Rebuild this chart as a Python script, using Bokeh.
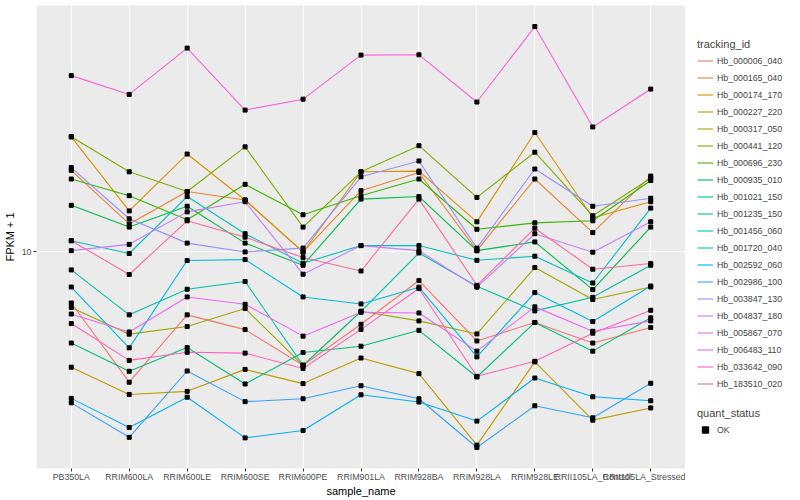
import math
from bokeh.plotting import figure
from bokeh.layouts import row
from bokeh.models import (Range1d, FixedTicker, Legend, LegendItem,
                          PrintfTickFormatter)
from bokeh.embed import file_html
from bokeh.resources import INLINE

samples = ["PB350LA", "RRIM600LA", "RRIM600LE", "RRIM600SE", "RRIM600PE",
           "RRIM901LA", "RRIM928BA", "RRIM928LA", "RRIM928LE",
           "RRII105LA_Control", "RRII105LA_Stressed"]

tracking_ids = ["Hb_000006_040", "Hb_000165_040", "Hb_000174_170", "Hb_000227_220",
                "Hb_000317_050", "Hb_000441_120", "Hb_000696_230", "Hb_000935_010",
                "Hb_001021_150", "Hb_001235_150", "Hb_001456_060", "Hb_001720_040",
                "Hb_002592_060", "Hb_002986_100", "Hb_003847_130", "Hb_004837_180",
                "Hb_005867_070", "Hb_006483_110", "Hb_033642_090", "Hb_183510_020"]

# FPKM + 1 per sample (same order as samples)
Hb_000006_040 = [6.76, 3.68, 6.17, 5.51, 4.19, 5.74, 8.03, 5.05, 5.82, 4.97, 5.60]
Hb_000165_040 = [18.7, 12.4, 15.9, 14.9, 10.0, 16.0, 18.4, 10.1, 17.5, 11.6, 17.9]
Hb_000174_170 = [24.2, 13.7, 21.2, 14.9, 9.98, 18.5, 18.6, 12.6, 25.0, 13.0, 14.7]
Hb_000227_220 = [4.13, 3.35, 3.43, 4.06, 3.64, 4.43, 3.93, 2.27, 4.30, 2.75, 3.02]
Hb_000317_050 = [6.53, 5.32, 5.64, 6.48, 4.19, 6.34, 5.89, 5.33, 8.87, 6.94, 7.64]
Hb_000441_120 = [24.2, 18.5, 15.9, 22.4, 12.1, 18.5, 22.6, 15.2, 21.5, 13.2, 17.6]
Hb_000696_230 = [17.5, 15.4, 12.8, 16.8, 13.3, 15.4, 17.5, 11.9, 12.5, 12.7, 17.3]
Hb_000935_010 = [14.3, 12.1, 14.2, 10.7, 9.03, 15.0, 15.3, 10.1, 10.8, 7.49, 12.1]
Hb_001021_150 = [4.97, 4.00, 4.80, 3.63, 4.62, 4.85, 5.48, 3.83, 5.82, 4.67, 6.03]
Hb_001235_150 = [8.71, 6.17, 7.51, 7.97, 4.19, 6.34, 9.92, 7.69, 6.36, 7.06, 9.03]
Hb_001456_060 = [10.9, 9.88, 15.3, 11.5, 9.17, 10.5, 10.5, 9.38, 9.68, 7.88, 14.0]
Hb_001720_040 = [7.64, 4.79, 9.36, 9.43, 7.08, 6.71, 7.63, 4.47, 7.32, 5.86, 7.70]
Hb_002592_060 = [3.25, 2.60, 3.28, 2.40, 2.54, 3.34, 3.16, 2.73, 3.80, 3.29, 3.19]
Hb_002986_100 = [3.14, 2.41, 4.01, 3.17, 3.24, 3.58, 3.24, 2.23, 3.07, 2.80, 3.65]
Hb_003847_130 = [19.1, 12.9, 10.7, 10.0, 10.3, 17.8, 20.1, 10.3, 18.9, 14.2, 15.1]
Hb_004837_180 = [10.1, 10.6, 13.6, 14.7, 8.43, 10.5, 10.1, 7.63, 11.5, 9.98, 12.6]
Hb_005867_070 = [6.21, 5.41, 7.08, 6.69, 5.24, 6.29, 6.26, 4.67, 6.56, 5.44, 5.89]
Hb_006483_110 = [38.7, 33.5, 47.8, 29.7, 32.3, 45.3, 45.4, 31.6, 56.4, 26.1, 34.9]
Hb_033642_090 = [5.77, 4.35, 4.63, 4.60, 4.09, 5.52, 7.55, 3.85, 4.32, 5.36, 6.39]
Hb_183510_020 = [10.9, 8.41, 12.7, 11.2, 9.58, 8.64, 15.0, 7.74, 12.0, 8.76, 9.15]

series = [Hb_000006_040, Hb_000165_040, Hb_000174_170, Hb_000227_220, Hb_000317_050,
          Hb_000441_120, Hb_000696_230, Hb_000935_010, Hb_001021_150, Hb_001235_150,
          Hb_001456_060, Hb_001720_040, Hb_002592_060, Hb_002986_100, Hb_003847_130,
          Hb_004837_180, Hb_005867_070, Hb_006483_110, Hb_033642_090, Hb_183510_020]

quant_status = ["OK"]
y_breaks = [10]


def hcl_hex(h, c=100.0, l=65.0):
    hr = math.radians(h)
    u = c * math.cos(hr)
    v = c * math.sin(hr)
    Xn, Yn, Zn = 95.047, 100.0, 108.883
    Y = Yn * ((l + 16.0) / 116.0) ** 3
    den = Xn + 15 * Yn + 3 * Zn
    un, vn = 4 * Xn / den, 9 * Yn / den
    up = u / (13 * l) + un
    vp = v / (13 * l) + vn
    X = Y * 9 * up / (4 * vp)
    Z = Y * (12 - 3 * up - 20 * vp) / (4 * vp)
    x, y, z = X / 100, Y / 100, Z / 100
    rgb = [3.2404542 * x - 1.5371385 * y - 0.4985314 * z,
           -0.9692660 * x + 1.8760108 * y + 0.0415560 * z,
           0.0556434 * x - 0.2040259 * y + 1.0572252 * z]
    out = []
    for ch in rgb:
        ch = 12.92 * ch if ch <= 0.0031308 else 1.055 * ch ** (1 / 2.4) - 0.055
        out.append(int(round(min(max(ch, 0), 1) * 255)))
    return "#%02x%02x%02x" % tuple(out)


n = len(tracking_ids)
colors = [hcl_hex(15 + 360.0 * i / n) for i in range(n)]

allv = [v for s in series for v in s]
lmin, lmax = math.log10(min(allv)), math.log10(max(allv))
pad = 0.05 * (lmax - lmin)

TOTAL_H = 497
p = figure(frame_width=649, frame_height=463, output_backend="svg",
           toolbar_location=None, y_axis_type="log",
           x_range=Range1d(-0.6, len(samples) - 1 + 0.6),
           y_range=Range1d(10 ** (lmin - pad), 10 ** (lmax + pad)),
           min_border_left=10, min_border_right=0, min_border_top=5,
           min_border_bottom=10)

p.background_fill_color = "#EBEBEB"
p.border_fill_color = "white"
p.outline_line_color = None

xs = list(range(len(samples)))
for name, vals, col in zip(tracking_ids, series, colors):
    p.line(xs, vals, line_color=col, line_width=1.1)

px = [i for s in series for i in xs]
p.scatter(px, allv, marker="square", size=4, color="black")

# axes
p.xaxis.ticker = FixedTicker(ticks=xs)
p.xaxis.major_label_overrides = {i: s for i, s in enumerate(samples)}
p.yaxis.ticker = FixedTicker(ticks=y_breaks)
p.yaxis.formatter = PrintfTickFormatter(format="%d")
for ax in (p.xaxis[0], p.yaxis[0]):
    ax.axis_line_color = None
    ax.major_tick_line_color = "#333333"
    ax.major_tick_out = 3
    ax.major_tick_in = 0
    ax.minor_tick_line_color = None
    ax.major_label_text_font = "Liberation Sans"
    ax.major_label_text_font_size = "8.8px"
    ax.major_label_text_color = "#4D4D4D"
    ax.axis_label_text_font = "Liberation Sans"
    ax.axis_label_text_font_size = "11px"
    ax.axis_label_text_font_style = "normal"
    ax.axis_label_text_color = "black"
p.xaxis.major_label_standoff = 0
p.xaxis.axis_label_standoff = 0
p.yaxis.major_label_standoff = 2
p.yaxis.axis_label_standoff = 3
p.xaxis.axis_label = "sample_name"
p.yaxis.axis_label = "FPKM + 1"

p.xgrid.ticker = FixedTicker(ticks=xs)
p.ygrid.ticker = FixedTicker(ticks=y_breaks)
p.grid.grid_line_color = "white"
p.grid.grid_line_width = 1.1
p.grid.minor_grid_line_color = None

# legend panel (separate figure to the right)
LW = 104
lf = figure(width=LW, height=TOTAL_H, output_backend="svg", toolbar_location=None,
            x_axis_type=None, y_axis_type=None,
            x_range=Range1d(0, 1), y_range=Range1d(0, 1),
            min_border=0)
lf.outline_line_color = None
lf.grid.visible = False
lf.background_fill_color = "white"
lf.border_fill_color = "white"

items = []
for name, col in zip(tracking_ids, colors):
    r = lf.line([-5, -4], [-5, -4], line_color=col, line_width=1.1)
    items.append(LegendItem(label=name, renderers=[r]))
pr = lf.scatter([-5], [-5], marker="square", size=4, color="black")


def style_legend(lg):
    lg.title_text_font = "Liberation Sans"
    lg.title_text_font_size = "11px"
    lg.title_text_font_style = "normal"
    lg.label_text_font = "Liberation Sans"
    lg.label_text_font_size = "8.8px"
    lg.glyph_width = 16
    lg.glyph_height = 17
    lg.label_height = 17
    lg.label_standoff = 4
    lg.spacing = 0
    lg.padding = 0
    lg.margin = 0
    lg.title_standoff = 2
    lg.background_fill_alpha = 0
    lg.border_line_color = None


leg1 = Legend(items=items, title="tracking_id", location=(12, TOTAL_H - 391 - 32))
style_legend(leg1)
lf.add_layout(leg1, "center")

leg2 = Legend(items=[LegendItem(label=quant_status[0], renderers=[pr])],
              title="quant_status", location=(12, TOTAL_H - 438 - 31))
style_legend(leg2)
lf.add_layout(leg2, "center")

layout = row(p, lf)
open("out.html", "w").write(file_html(layout, INLINE))
